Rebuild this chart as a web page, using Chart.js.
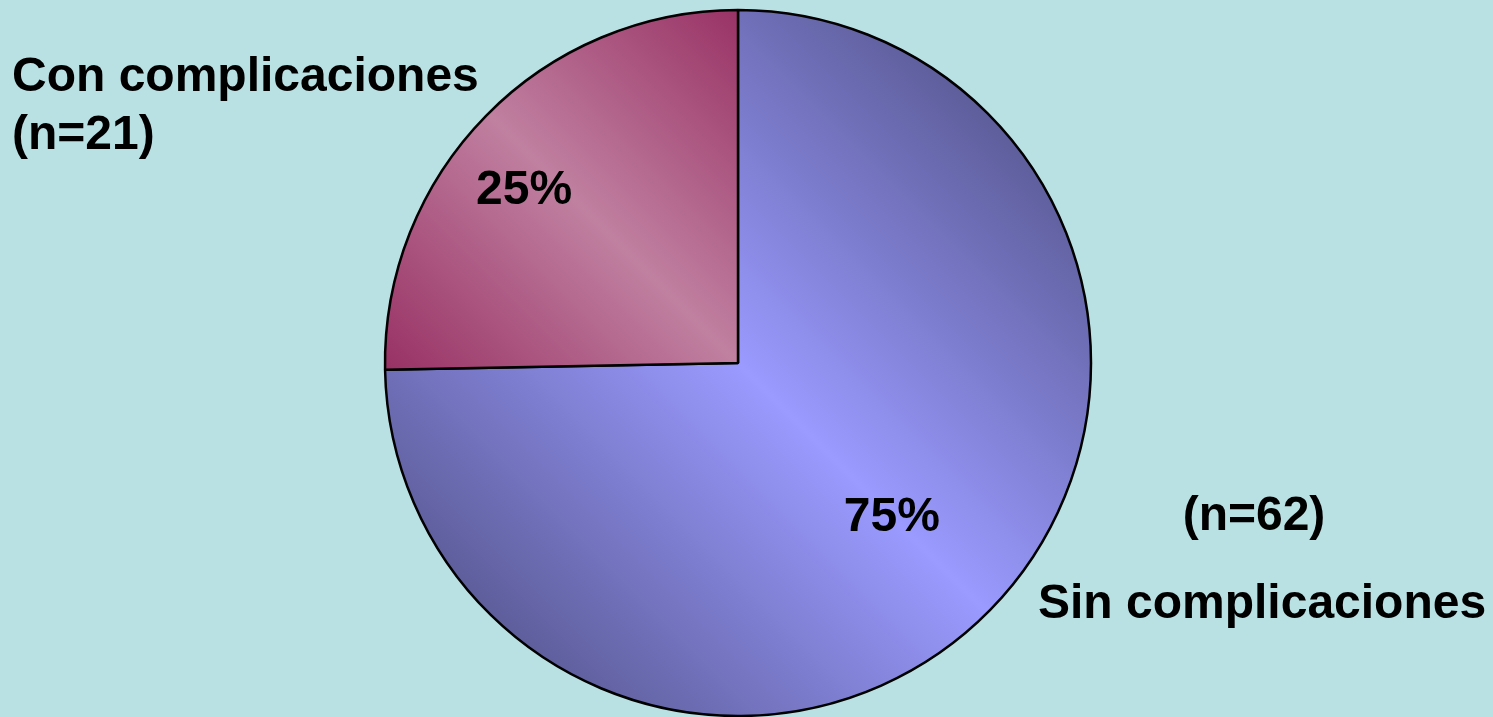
<!DOCTYPE html>
<html>
<head>
<meta charset="utf-8">
<script src="https://cdn.jsdelivr.net/npm/chart.js@4/dist/chart.umd.min.js"></script>
<style>
  html, body { margin: 0; padding: 0; background: #b9e0e3; overflow: hidden; }
  #wrap { width: 1493px; height: 717px; position: relative; }
</style>
</head>
<body>
<div id="wrap"><canvas id="pieChart"></canvas></div>
<script>
// data
const categories = ["Sin complicaciones", "Con complicaciones"];
const counts = [62, 21];

const FONT = "bold 48px 'Liberation Sans', Arial, sans-serif";

// gradient fill per slice: dark edge, light band, dark edge
const sliceColors = [
  { dark: "#5e5e9c", light: "#9a9aff" },
  { dark: "#993366", light: "#c080a0" }
];

// set the gradients once the arcs have their geometry
const gradientFill = {
  id: "gradientFill",
  beforeDatasetsDraw(chart) {
    const ctx = chart.ctx;
    chart.getDatasetMeta(0).data.forEach((arc, i) => {
      const { x, y, outerRadius: r } = arc.getProps(["x", "y", "outerRadius"], true);
      let g;
      if (i === 0) {
        const d = r / Math.SQRT2;
        g = ctx.createLinearGradient(x - d, y + d, x + d, y - d);
      } else {
        g = ctx.createLinearGradient(x - r, y, x, y - r);
      }
      g.addColorStop(0, sliceColors[i].dark);
      g.addColorStop(0.5, sliceColors[i].light);
      g.addColorStop(1, sliceColors[i].dark);
      arc.options.backgroundColor = g;
    });
  }
};

// percent inside each slice, plus the outer captions
const sliceText = {
  id: "sliceText",
  afterDatasetsDraw(chart, args, opts) {
    const ctx = chart.ctx;
    const total = counts.reduce((a, b) => a + b, 0);
    ctx.save();
    ctx.font = FONT;
    ctx.fillStyle = "#000";
    ctx.textBaseline = "alphabetic";

    chart.getDatasetMeta(0).data.forEach((arc, i) => {
      const { x, y, outerRadius: r } = arc.getProps(["x", "y", "outerRadius"], true);
      const [fx, fy] = opts.anchor[i];
      const pct = Math.round(counts[i] / total * 100) + "%";
      ctx.textAlign = "center";
      ctx.fillText(pct, x + fx * r, y + fy * r + 17);
    });

    // Con complicaciones, top left
    ctx.textAlign = "left";
    ctx.fillText(categories[1], 12, 91);
    ctx.fillText("(n=" + counts[1] + ")", 12, 149);

    // Sin complicaciones, bottom right
    ctx.textAlign = "center";
    ctx.fillText("(n=" + counts[0] + ")", 1254, 530);
    ctx.textAlign = "left";
    ctx.fillText(categories[0], 1038, 618);
    ctx.restore();
  }
};

new Chart(document.getElementById("pieChart"), {
  type: "pie",
  data: {
    labels: categories,
    datasets: [{
      data: counts,
      backgroundColor: sliceColors.map(c => c.light),
      borderColor: "#000",
      borderWidth: 2.5
    }]
  },
  options: {
    responsive: true,
    maintainAspectRatio: false,
    animation: false,
    radius: 353,
    layout: { padding: { left: 0, right: 17, top: 9, bottom: 0 } },
    plugins: {
      legend: { display: false },
      tooltip: { enabled: false },
      // label centre, as a fraction of the radius from the pie centre
      sliceText: { anchor: [[0.436, 0.428], [-0.606, -0.499]] }
    }
  },
  plugins: [gradientFill, sliceText]
});
</script>
</body>
</html>
